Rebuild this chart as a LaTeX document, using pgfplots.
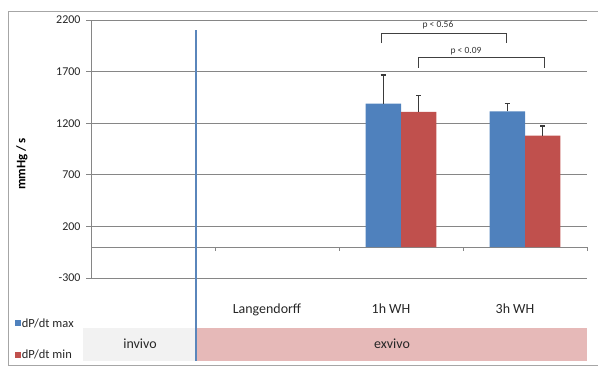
\documentclass[border=0pt]{standalone}
\usepackage{fontspec}
\setmainfont{Carlito}
\usepackage{pgfplots}
\pgfplotsset{compat=1.18}
\definecolor{barblue}{HTML}{4F81BD}
\definecolor{barred}{HTML}{C0504D}
\definecolor{gridgray}{HTML}{868686}
\definecolor{bandpink}{HTML}{E6B9B8}
\definecolor{bandgray}{HTML}{F2F2F2}
\definecolor{vline}{HTML}{5A86BB}
\definecolor{framegray}{HTML}{A6A6A6}
\definecolor{errcol}{HTML}{3A3A3A}
\begin{document}
\begin{tikzpicture}[x=1bp,y=1bp]
\path[use as bounding box] (0,0) rectangle (598,367);
\fill[bandgray] (83,6) rectangle (196,39);
\fill[bandpink] (196,6) rectangle (587,39);
\draw[framegray, line width=0.7bp] (598,356) -- (8,356) -- (8,2) -- (598,2);
\begin{axis}[
  at={(91bp,89bp)}, anchor=south west,
  scale only axis, width=496bp, height=258bp,
  xmin=-0.5, xmax=3.5, ymin=-300, ymax=2200,
  ytick={-300,200,700,1200,1700,2200},
  xtick={1,2,3}, xticklabels={Langendorff,1h WH,3h WH},
  axis y line*=left, axis x line*=bottom,
  x axis line style={draw=none},
  y axis line style={draw=gridgray, line width=0.8bp},
  xtick style={draw=none},
  ytick style={draw=gridgray, line width=0.8bp},
  tick align=outside, major tick length=5bp,
  ymajorgrids, grid style={draw=gridgray, line width=0.8bp},
  /pgf/number format/assume math mode=true,
  /pgf/number format/1000 sep={},
  yticklabel style={font=\fontsize{12}{14}\selectfont, text=black!85, xshift=-2bp},
  xticklabel style={font=\fontsize{14}{16}\selectfont, text=black!85, xshift=-10bp, yshift=-17bp},
  ylabel={\textbf{mmHg / s}},
  every axis y label/.style={at={(rel axis cs:-0.139,0.442)}, rotate=90, anchor=center, font=\fontsize{13}{15}\selectfont},
  ybar, bar width=0.286,
  clip=false,
  unbounded coords=jump,
  legend style={at={(rel axis cs:-0.153,-0.2364)}, anchor=west, draw=none, fill=none,
    font=\fontsize{12.5}{14}\selectfont, row sep=20bp, inner sep=0pt,
    nodes={inner sep=0.5bp, text=black!85},
    /tikz/every even column/.append style={column sep=1bp}},
  legend image code/.code={\fill[#1,draw=none] (0bp,-3bp) rectangle (6bp,3bp);},
  legend cell align=left,
]
\draw[gridgray, line width=0.8bp] (axis cs:-0.5,0) -- (axis cs:3.5,0);
\draw[gridgray, line width=0.8bp] (axis cs:0.5,0) -- ([yshift=-4bp]axis cs:0.5,0);
\draw[gridgray, line width=0.8bp] (axis cs:1.5,0) -- ([yshift=-4bp]axis cs:1.5,0);
\draw[gridgray, line width=0.8bp] (axis cs:2.5,0) -- ([yshift=-4bp]axis cs:2.5,0);
\draw[gridgray, line width=0.8bp] (axis cs:3.5,0) -- ([yshift=-4bp]axis cs:3.5,0);
\addplot[fill=barblue, draw=none, bar shift=-0.143] coordinates {(2,1390) (3,1315)};
\addlegendentry{dP/dt max}
\addplot[fill=barred, draw=none, bar shift=0.143] coordinates {(2,1310) (3,1080)};
\addlegendentry{dP/dt min}
% error bars (plus direction) with caps
\addplot[sharp plot, forget plot, draw=errcol, line width=1.4bp, mark=none] coordinates {
  (1.857,1390) (1.857,1667) (1.857,nan) (1.836,1667) (1.878,1667) (1.878,nan)
  (2.143,1310) (2.143,1466) (2.143,nan) (2.122,1466) (2.164,1466) (2.164,nan)
  (2.857,1315) (2.857,1393) (2.857,nan) (2.836,1393) (2.878,1393) (2.878,nan)
  (3.143,1080) (3.143,1173) (3.143,nan) (3.122,1173) (3.164,1173)};
\draw[black!75, line width=0.9bp] (axis cs:1.84,1977) -- (axis cs:1.84,2074) -- (axis cs:2.85,2074) -- (axis cs:2.85,1977);
\draw[black!75, line width=0.9bp] (axis cs:2.137,1735) -- (axis cs:2.137,1841) -- (axis cs:3.153,1841) -- (axis cs:3.153,1735);
\node[font=\fontsize{9.5}{11}\selectfont, text=black!80] at (axis cs:2.298,2152) {p < 0.56};
\node[font=\fontsize{9.5}{11}\selectfont, text=black!80] at (axis cs:2.524,1900) {p < 0.09};
\end{axis}
\draw[vline, line width=1.1bp] (196,337) -- (196,6);
\node[font=\fontsize{14}{16}\selectfont, text=black!85] at (140,23) {invivo};
\node[font=\fontsize{14}{16}\selectfont, text=black!85] at (392,23) {exvivo};
\end{tikzpicture}
\end{document}
